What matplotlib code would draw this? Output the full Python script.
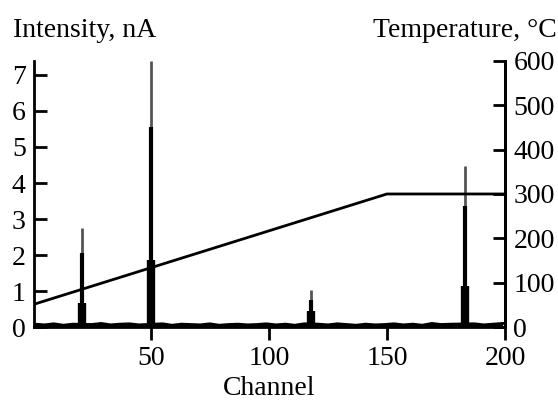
import matplotlib.pyplot as plt

plt.rcParams.update({
    'font.family': 'serif',
    'font.serif': ['Liberation Serif', 'DejaVu Serif'],
    'font.size': 20,
})

# Peaks: channel, top of thin grey line, black part, thick base
peak_channels = [21, 50, 118, 183]
peak_top = [2.75, 7.38, 1.03, 4.48]
peak_mid = [2.05, 5.55, 0.75, 3.35]
peak_base = [0.67, 1.85, 0.45, 1.15]

# Baseline noise
noise_channels = [1, 5, 9, 13, 17, 25, 29, 33, 37, 41, 45, 55, 59, 63, 67, 71,
                  75, 79, 83, 87, 91, 95, 99, 103, 107, 111, 115, 121, 125, 129,
                  133, 137, 141, 145, 149, 153, 157, 161, 165, 169, 173, 177,
                  187, 191, 195, 199]
noise_values = [0.08, 0.06, 0.09, 0.05, 0.08, 0.07, 0.10, 0.06, 0.08, 0.09,
                0.06, 0.09, 0.05, 0.08, 0.07, 0.06, 0.09, 0.05, 0.07, 0.08,
                0.06, 0.07, 0.09, 0.06, 0.08, 0.05, 0.09, 0.08, 0.06, 0.09,
                0.07, 0.05, 0.08, 0.06, 0.07, 0.09, 0.06, 0.08, 0.05, 0.10,
                0.07, 0.08, 0.09, 0.06, 0.08, 0.10]

# Temperature program
temp_channels = [1, 150, 200]
temp_values = [52, 300, 300]

fig = plt.figure(figsize=(5.58, 4.01), dpi=100)
ax = fig.add_axes([0.061, 0.1845, 0.844, 0.6635])

ax.fill_between(noise_channels, 0, noise_values, color='black', linewidth=0)
ax.plot(noise_channels, noise_values, color='black', linewidth=2)
ax.vlines(peak_channels, 0, peak_top, colors='#555555', linewidth=2)
ax.vlines(peak_channels, 0, peak_mid, colors='black', linewidth=3)
ax.vlines(peak_channels, 0, peak_base, colors='black', linewidth=6)

ax.set_xlim(0.6, 200)
ax.set_ylim(0, 7.39)
ax.set_xticks([50, 100, 150, 200])
ax.set_yticks(range(8))
ax.spines['top'].set_visible(False)
for s in ['left', 'right', 'bottom']:
    ax.spines[s].set_linewidth(2)
ax.tick_params(axis='y', direction='in', length=9, width=2, pad=6)
ax.tick_params(axis='x', direction='out', length=9, width=2, pad=5)

ax2 = ax.twinx()
ax2.plot(temp_channels, temp_values, color='black', linewidth=2)
ax2.set_ylim(0, 600)
ax2.set_yticks(range(0, 700, 100))
ax2.spines['top'].set_visible(False)
ax2.spines['right'].set_linewidth(2)
ax2.spines['left'].set_visible(False)
ax2.spines['bottom'].set_visible(False)
ax2.tick_params(axis='y', direction='in', length=9, width=2, pad=6)

fig.text(0.023, 0.925, 'Intensity, nA', ha='left', va='center')
fig.text(0.997, 0.925, 'Temperature, °C', ha='right', va='center')
ax.set_xlabel('Channel', labelpad=3)

fig.savefig('out.png', dpi=100)
